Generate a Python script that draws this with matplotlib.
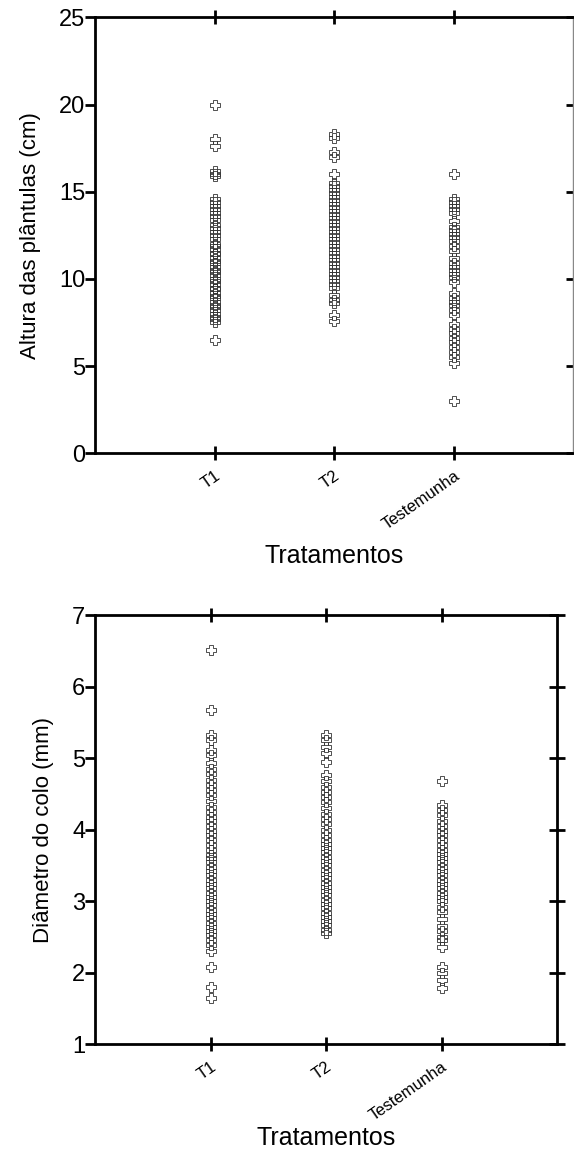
import numpy as np
import matplotlib.pyplot as plt

plt.rcParams['font.family'] = ['Liberation Sans', 'DejaVu Sans']

# Treatment names
tratamentos = ["T1", "T2", "Testemunha"]

# Seedling height (cm)
alt_T1 = [20.0, 18.0, 17.6, 16.2, 16.0, 15.9, 14.6, 14.4, 14.2, 14.0, 13.8, 13.6,
          13.4, 13.1, 12.9, 12.7, 12.5, 12.3, 12.0, 11.9, 11.7, 11.5, 11.4, 11.2,
          11.0, 10.9, 10.7, 10.5, 10.4, 10.2, 10.0, 9.9, 9.7, 9.5, 9.4, 9.2, 9.0,
          8.9, 8.7, 8.5, 8.4, 8.2, 8.0, 7.8, 7.7, 7.5, 6.5]
alt_T2 = [18.3, 18.1, 17.3, 17.0, 16.0, 15.5, 15.3, 15.1, 14.9, 14.7, 14.5, 14.3,
          14.1, 13.9, 13.7, 13.5, 13.3, 13.1, 12.9, 12.7, 12.5, 12.3, 12.1, 11.9,
          11.7, 11.5, 11.3, 11.1, 10.9, 10.7, 10.5, 10.3, 10.1, 9.9, 9.7, 9.5,
          9.1, 8.8, 8.6, 7.9, 7.6]
alt_Test = [16.0, 14.6, 14.4, 14.2, 14.0, 13.8, 13.3, 13.0, 12.8, 12.6, 12.4, 12.2,
            11.9, 11.6, 11.2, 10.9, 10.7, 10.5, 10.3, 10.1, 9.8, 9.2, 8.9, 8.7,
            8.5, 8.2, 7.9, 7.4, 7.1, 6.9, 6.6, 6.4, 6.1, 5.8, 5.5, 5.2, 3.0]

# Stem diameter (mm)
diam_T1 = [6.52, 5.67, 5.32, 5.25, 5.12, 5.05, 4.93, 4.85, 4.78, 4.70, 4.62, 4.55,
           4.48, 4.40, 4.32, 4.25, 4.18, 4.12, 4.05, 3.98, 3.92, 3.85, 3.78, 3.72,
           3.65, 3.60, 3.55, 3.48, 3.42, 3.36, 3.30, 3.24, 3.18, 3.12, 3.06, 3.00,
           2.94, 2.88, 2.82, 2.76, 2.70, 2.64, 2.58, 2.52, 2.45, 2.38, 2.30, 2.08,
           1.80, 1.65]
diam_T2 = [5.32, 5.25, 5.15, 5.07, 4.94, 4.76, 4.68, 4.60, 4.52, 4.45, 4.38, 4.30,
           4.22, 4.15, 4.08, 4.00, 3.93, 3.86, 3.80, 3.74, 3.68, 3.62, 3.56, 3.50,
           3.44, 3.38, 3.32, 3.26, 3.20, 3.14, 3.08, 3.02, 2.96, 2.90, 2.84, 2.78,
           2.72, 2.66, 2.60, 2.55]
diam_Test = [4.68, 4.35, 4.28, 4.20, 4.12, 4.05, 3.98, 3.92, 3.85, 3.78, 3.72, 3.66,
             3.60, 3.54, 3.48, 3.42, 3.36, 3.30, 3.24, 3.18, 3.12, 3.06, 3.00, 2.92,
             2.85, 2.75, 2.65, 2.58, 2.50, 2.45, 2.36, 2.08, 2.00, 1.90, 1.78]

fig = plt.figure(figsize=(5.74, 11.59), dpi=100)
ax1 = fig.add_axes([0.1655, 0.609, 0.833, 0.376])
ax2 = fig.add_axes([0.1655, 0.0992, 0.805, 0.370])


def draw(ax, groups, ylim, yticks, ylabel, xpad):
    for i, vals in enumerate(groups):
        ax.plot(np.full(len(vals), i + 1), vals, "P", markersize=7,
                markerfacecolor="none", markeredgecolor="#333333",
                markeredgewidth=0.6, clip_on=False)
    ax.set_xlim(0, 4)
    ax.set_ylim(*ylim)
    ax.set_yticks(yticks)
    ax.set_xticks([1, 2, 3])
    ax.set_xticklabels(tratamentos, rotation=35, ha="right",
                       rotation_mode="anchor", fontsize=12)
    ax.tick_params(axis="y", left=True, direction="out", length=7, width=2,
                   labelsize=17, pad=0)
    ax.tick_params(axis="x", bottom=True, top=True, direction="inout",
                   length=10, width=2, pad=6)
    ax.tick_params(axis="y", which="major", right=True)
    for s in ax.spines.values():
        s.set_linewidth(2)
    ax.set_ylabel(ylabel, fontsize=16, labelpad=13)
    ax.set_xlabel("Tratamentos", fontsize=18, labelpad=xpad)


draw(ax1, [alt_T1, alt_T2, alt_Test], (0, 25), [0, 5, 10, 15, 20, 25],
     "Altura das plântulas (cm)", 8)
draw(ax2, [diam_T1, diam_T2, diam_Test], (1, 7), [1, 2, 3, 4, 5, 6, 7],
     "Diâmetro do colo (mm)", 2)

# right-hand ticks: inward in the upper panel, crossing in the lower one
for t in ax1.yaxis.get_major_ticks():
    t.tick2line.set_marker(0)
    t.tick2line.set_markersize(5)
for t in ax2.yaxis.get_major_ticks():
    t.tick2line.set_marker("_")
    t.tick2line.set_markersize(12)
ax1.spines["right"].set_linewidth(1)
ax1.spines["right"].set_color("#888888")

fig.savefig("out.png", dpi=100)
